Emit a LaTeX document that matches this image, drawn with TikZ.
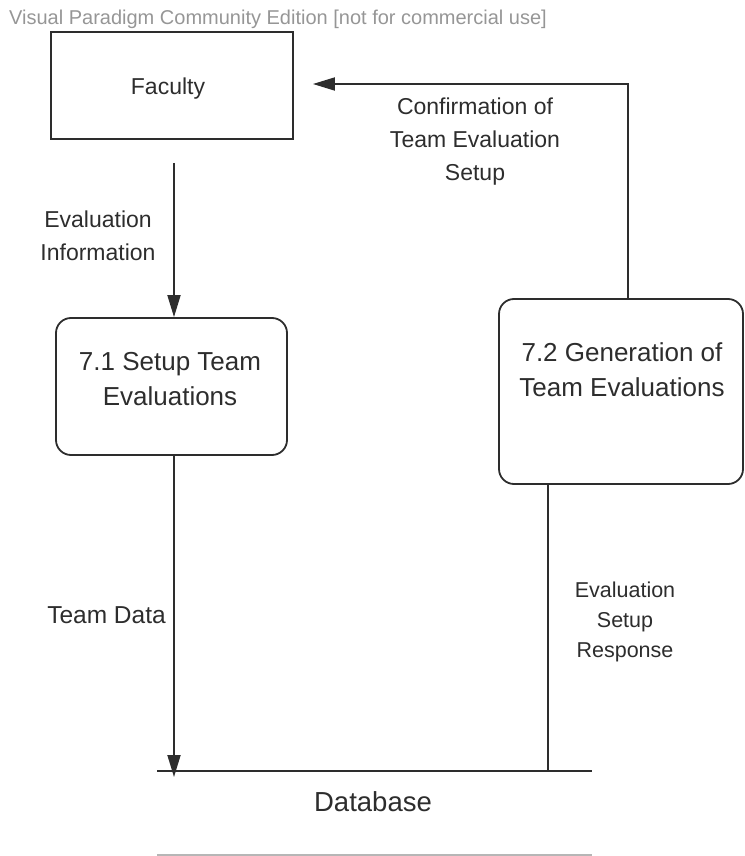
\documentclass[tikz,border=0pt]{standalone}
\usepackage{fontspec}
\setmainfont{Liberation Sans}
\usetikzlibrary{arrows.meta}
\usetikzlibrary{positioning}
\definecolor{ink}{RGB}{45,45,45}
\definecolor{wmark}{RGB}{150,150,150}
\tikzset{dataflow/.style = {draw=ink, line width=1.8pt,
                            -{Triangle[length=22pt, width=13pt]}},
         wire/.style = {draw=ink, line width=1.8pt},
         entity/.style = {draw=ink, line width=1.8pt, rectangle},
         process/.style = {draw=ink, line width=1.8pt, rounded corners=15pt},
         txt/.style = {text=ink, align=center,
                       font=\fontsize{23}{33}\selectfont},
         proctxt/.style = {text=ink, align=center,
                           font=\fontsize{26}{35}\selectfont},
         smalltxt/.style = {text=ink, align=center,
                            font=\fontsize{21.5}{30}\selectfont}}

\begin{document}
\begin{tikzpicture}[x=1pt, y=-1pt]
    \useasboundingbox (0,0) rectangle (744,856);
    \node [text=wmark, font=\fontsize{20}{22}\selectfont] (wm) at (278,19)
        {Visual Paradigm Community Edition [not for commercial use]};
    % entity and processes
    \node [entity, minimum width=242pt, minimum height=107pt] (fac) at (172,85.5) {};
    \node [txt] (factxt) at (168,89) {Faculty};
    \node [process, minimum width=231pt, minimum height=137pt] (p71) at (171.5,386.5) {};
    \node [proctxt] (p71txt) at (170,379) {7.1 Setup Team\\Evaluations};
    \node [process, minimum width=244pt, minimum height=185pt] (p72) at (621,391.5) {};
    \node [proctxt] (p72txt) at (622,370) {7.2 Generation of\\Team Evaluations};
    % data store
    \coordinate (dbl) at (157,771);
    \coordinate (dbr) at (592,771);
    \coordinate (resp) at (548,771);
    \coordinate (bend) at (628,84);
    \coordinate (col) at (174,771);
    \draw [wire] (dbl) -- (dbr);
    \node [proctxt, font=\fontsize{27.5}{33}\selectfont] (db) at (373,802) {Database};
    \draw [wmark!70, line width=1.2pt] (157,855) -- (592,855);
    % flows
    \draw [dataflow] ([yshift=-23pt]fac.south -| col) -- (p71.north -| col);
    \draw [dataflow] (bend |- p72.north) -- (bend) -- ([xshift=19pt]fac.east |- bend);
    \draw [dataflow] (p71.south -| col) -- ([yshift=-6pt]col);
    \draw [wire] (p72.south -| resp) -- (resp);
    % flow labels
    \node [txt] (evalinfo) at (98,236) {Evaluation\\Information};
    \node [txt] (confirm) at (475,142) {Confirmation of\\Team Evaluation\\Setup};
    \node [txt, font=\fontsize{24.5}{33}\selectfont] (teamdata) at (106.5,615) {Team Data};
    \node [smalltxt] (setupresp) at (625,622) {Evaluation\\Setup\\Response};
  \end{tikzpicture}
\end{document}
